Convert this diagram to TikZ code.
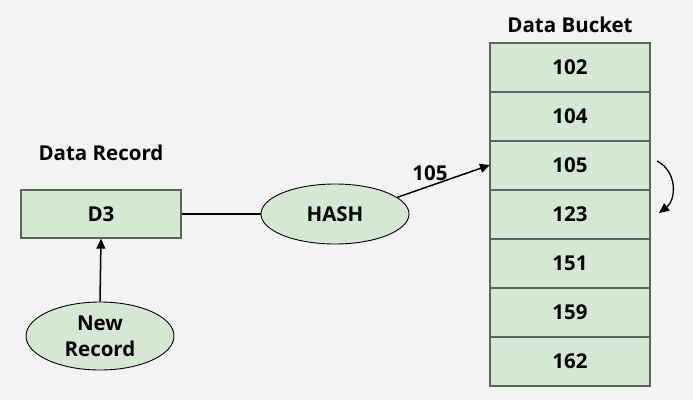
\documentclass[tikz,border=0pt]{standalone}
\usepackage{fontspec}
\setmainfont{Open Sans}
\usetikzlibrary{shapes.geometric,arrows.meta}
\definecolor{bg}{HTML}{F3F3F3}
\definecolor{cellfill}{HTML}{D5E8D4}
\definecolor{cellline}{HTML}{5A6657}
\tikzset{
  cell/.style={draw=cellline,fill=cellfill,line width=1.3pt,minimum width=160pt,minimum height=49pt,inner sep=0pt,font=\fontsize{20.5}{23}\selectfont\bfseries},
  oval/.style={ellipse,draw=black,fill=cellfill,line width=0.9pt,inner sep=0pt,font=\fontsize{20.5}{26}\selectfont\bfseries,align=center},
  lbl/.style={font=\fontsize{20.5}{23}\selectfont\bfseries,inner sep=0pt},
  conn/.style={line width=1.5pt,draw=black},
  arr/.style={conn,-{Triangle[length=10pt,width=9pt]}}
}
\begin{document}
\begin{tikzpicture}[x=1pt,y=-1pt]
\fill[bg] (0,0) rectangle (693,400);
\useasboundingbox (0,0) rectangle (693,400);
% bucket
\node[cell] (b1) at (570,67.5) {102};
\node[cell] (b2) at (570,116.5) {104};
\node[cell] (b3) at (570,165.5) {105};
\node[cell] (b4) at (570,214.5) {123};
\node[cell] (b5) at (570,263.5) {151};
\node[cell] (b6) at (570,312.5) {159};
\node[cell] (b7) at (570,361.5) {162};
\node[lbl] (bt) at (570,25) {Data Bucket};
% record
\node[cell,minimum height=48pt] (d3) at (101,214) {D3};
\node[lbl] (dt) at (101,153) {Data Record};
\node[oval,minimum width=148pt,minimum height=60pt] (hash) at (335,214) {HASH};
\node[oval,minimum width=148pt,minimum height=68pt] (nr) at (100,336) {New\\Record};
\draw[conn] (d3.east) -- (hash.west);
\draw[arr] (nr.north) -- (d3.south);
\coordinate (tip) at (490,165);
\draw[arr] (hash.15) -- (tip);
\node[lbl] (lab) at (430,173) {105};
\coordinate (c1) at (657,161);
\coordinate (c2) at (659,213);
\draw[arr,line width=1.3pt] (c1) .. controls (678,172) and (676,200) .. (c2);
\end{tikzpicture}
\end{document}
